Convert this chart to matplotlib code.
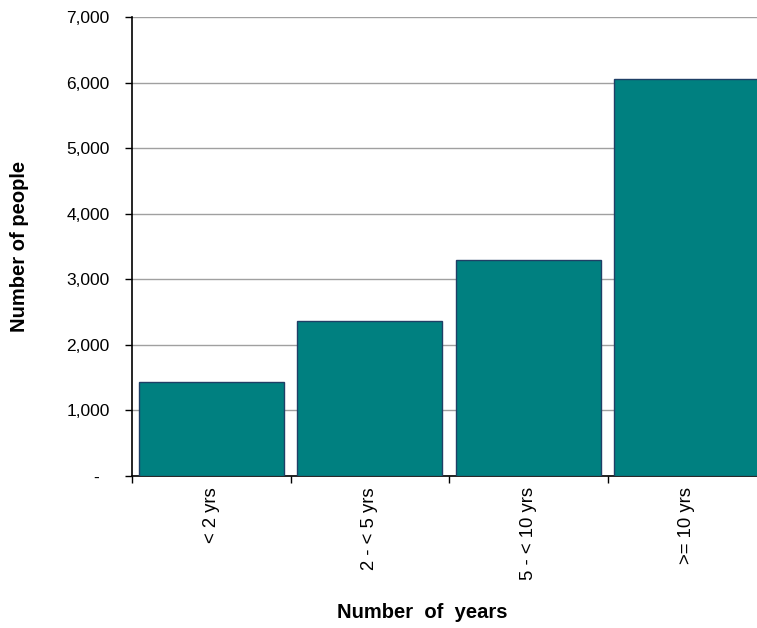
import matplotlib
matplotlib.use("Agg")
import matplotlib.pyplot as plt
from matplotlib.ticker import FixedLocator

plt.rcParams['font.family'] = ['Liberation Sans', 'DejaVu Sans']

categories = ["< 2 yrs", "2 - < 5 yrs", "5 - < 10 yrs", ">= 10 yrs"]
values = [1440, 2370, 3300, 6050]
yticks = [0, 1000, 2000, 3000, 4000, 5000, 6000, 7000]
ytick_labels = ["-  ", "1,000", "2,000", "3,000", "4,000", "5,000", "6,000", "7,000"]

fig = plt.figure(figsize=(7.57, 6.28), dpi=100)
ax = fig.add_axes([132/757, 1-476/628, (766-132)/757, (476-17)/628])

x = list(range(len(categories)))
ax.bar(x, values, width=0.915, color="#008080", edgecolor="#1F3F66", linewidth=1.0, zorder=3)

ax.set_xlim(-0.5, len(categories)-0.5)
ax.set_ylim(0, 7000)
ax.set_yticks(yticks)
ax.set_yticklabels(ytick_labels, fontsize=12.5)
ax.yaxis.grid(True, color="#a0a0a0", linewidth=1.0, zorder=0)
ax.set_axisbelow(True)

# category boundaries as major ticks, labels at centres as minor ticks
ax.xaxis.set_major_locator(FixedLocator([i - 0.5 for i in range(len(categories)+1)]))
ax.set_xticklabels([""] * (len(categories)+1))
ax.set_xticks(x, minor=True)
ax.set_xticklabels(categories, minor=True, rotation=90, fontsize=13.3, va="top", ha="center")
ax.tick_params(axis="x", which="minor", length=0, pad=8)
ax.tick_params(axis="x", which="major", length=5, direction="out", width=1)
ax.tick_params(axis="y", length=5, direction="out", width=1, pad=11)

for s in ["top", "right"]:
    ax.spines[s].set_visible(False)
ax.spines["left"].set_linewidth(1.2)
ax.spines["bottom"].set_linewidth(1.2)

fig.text(20/757, 1-246/628, "Number of people", rotation=90, ha="center", va="center",
         fontsize=14.5, fontweight="bold")
fig.text(422/757, 1-613/628, "Number  of  years", ha="center", va="center",
         fontsize=14.5, fontweight="bold")

fig.savefig("out.png", dpi=100)
